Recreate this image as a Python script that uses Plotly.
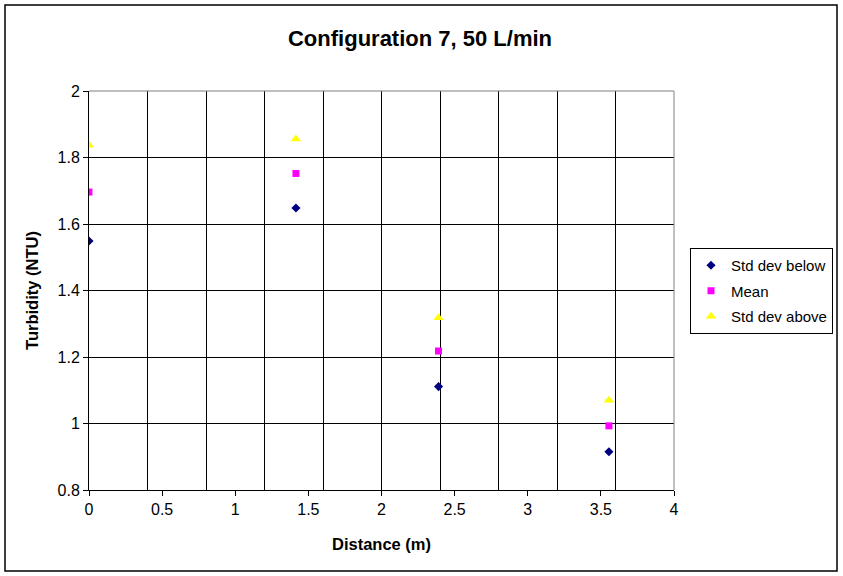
import plotly.graph_objects as go

# turbidity readings along the pipe
distance = [0, 1.415, 2.39, 3.555]
std_below = [1.549, 1.648, 1.111, 0.915]
mean = [1.696, 1.752, 1.218, 0.993]
std_above = [1.837, 1.856, 1.318, 1.070]

font = "Liberation Sans, Arial, sans-serif"

fig = go.Figure()
fig.add_trace(go.Scatter(x=distance, y=std_below, mode='markers', name='Std dev below',
                         legendgroup='a', marker=dict(symbol='diamond', size=7, color='#000080')))
fig.add_trace(go.Scatter(x=distance, y=mean, mode='markers', name='Mean',
                         legendgroup='b', marker=dict(symbol='square', size=7, color='#FF00FF')))
fig.add_trace(go.Scatter(x=distance, y=std_above, mode='markers', name='Std dev above',
                         legendgroup='c', marker=dict(symbol='triangle-up', size=9, color='#FFFF00')))
# empty trace so the labelled overlay axis gets drawn
fig.add_trace(go.Scatter(x=[], y=[], xaxis='x2', showlegend=False, hoverinfo='skip'))

fig.update_layout(
    width=843, height=576, autosize=False,
    margin=dict(l=89, r=169, t=91, b=86),
    paper_bgcolor='white', plot_bgcolor='white',
    font=dict(family=font, size=16, color='black'),
    title=dict(text='<b>Configuration 7, 50 L/min</b>', font=dict(size=22),
               x=420 / 843, xref='container', xanchor='center',
               y=1 - 38 / 576, yref='container', yanchor='middle'),
    # gridlines every 0.4, labels every 0.5 on the overlay axis
    xaxis=dict(range=[0, 4], dtick=0.4, tick0=0, showgrid=True, gridcolor='black', gridwidth=1,
               showticklabels=False, ticks='', zeroline=False, showline=False),
    xaxis2=dict(range=[0, 4], dtick=0.5, tick0=0, overlaying='x', anchor='y', side='bottom',
                showgrid=False, zeroline=False, showline=True, linecolor='black', linewidth=1,
                ticks='outside', ticklen=5, tickcolor='black',
                title=dict(text='<b>Distance (m)</b>', font=dict(size=16.5), standoff=21)),
    yaxis=dict(range=[0.8, 2], dtick=0.2, tick0=0.8, showgrid=True, gridcolor='black', gridwidth=1,
               zeroline=False, showline=True, linecolor='black', linewidth=1,
               ticks='outside', ticklen=5, tickcolor='black',
               title=dict(text='<b>Turbidity (NTU)</b>', font=dict(size=16.5), standoff=14)),
    legend=dict(x=690 / 843, y=1 - 248 / 576, xref='container', yref='container',
                xanchor='left', yanchor='top',
                bgcolor='white', bordercolor='black', borderwidth=1,
                font=dict(size=15), itemwidth=30, tracegroupgap=3),
    showlegend=True,
)

# grey top and right plot edges, black outer frame
fig.add_shape(type='line', xref='paper', yref='paper', x0=0, x1=1, y0=1, y1=1,
              line=dict(color='#808080', width=1), layer='above')
fig.add_shape(type='line', xref='paper', yref='paper', x0=1, x1=1, y0=0, y1=1,
              line=dict(color='#808080', width=1), layer='above')
fig.add_shape(type='rect', xref='paper', yref='paper',
              x0=(5 - 89) / 585, x1=(837 - 89) / 585, y0=(490 - 571) / 399, y1=(490 - 5) / 399,
              line=dict(color='black', width=1.5), layer='below')

fig.write_html("out.html", config=dict(displayModeBar=False, responsive=False),
               post_script="document.body.style.margin='0';document.body.style.overflow='hidden';")
